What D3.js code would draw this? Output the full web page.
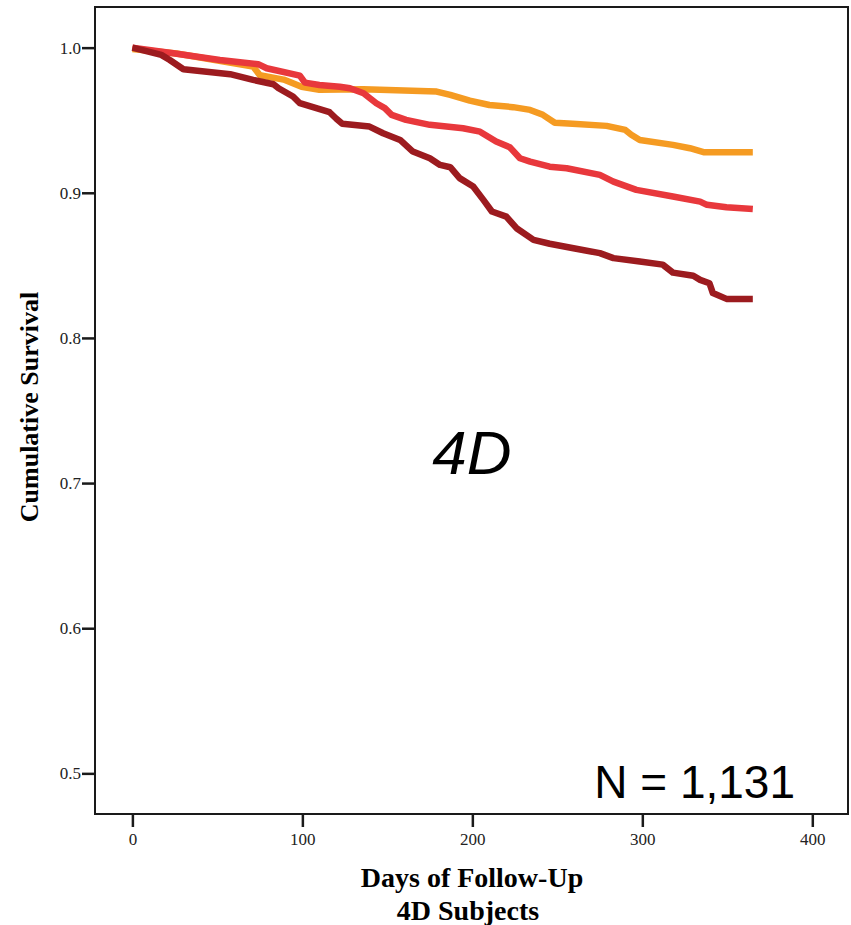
<!DOCTYPE html>
<html>
<head>
<meta charset="utf-8">
<script src="https://cdn.jsdelivr.net/npm/d3@7"></script>
<style>
  body { margin: 0; background: #fff; }
  svg { display: block; }
</style>
</head>
<body>
<svg width="851" height="925"></svg>
<script>
// follow-up days and cumulative survival
const days1 = [0, 26, 71, 75, 89, 99.5, 110, 136, 179, 187, 198.5, 210, 224, 234, 241.5, 248.5, 259, 279, 290, 293.5, 298.5, 318, 328, 336, 365];
const surv1 = [0.999, 0.996, 0.987, 0.981, 0.978, 0.973, 0.971, 0.9713, 0.9697, 0.9674, 0.9635, 0.9605, 0.959, 0.9571, 0.9537, 0.9483, 0.9475, 0.9461, 0.9433, 0.94, 0.9364, 0.933, 0.9307, 0.928, 0.928];

const days2 = [0, 24, 51.5, 74, 79, 98.5, 101.5, 110, 122, 128, 136, 143.5, 148.5, 152.5, 161, 175, 194.5, 204.5, 214, 222, 228, 234, 245.5, 255.5, 275, 283, 296.5, 318, 334, 338, 349.5, 365];
const surv2 = [1.0, 0.9961, 0.9915, 0.9886, 0.9858, 0.9807, 0.9759, 0.9743, 0.9731, 0.972, 0.9686, 0.9617, 0.9583, 0.9537, 0.9502, 0.9468, 0.9445, 0.9421, 0.9353, 0.9314, 0.9238, 0.9215, 0.918, 0.9169, 0.9123, 0.9077, 0.902, 0.8974, 0.8939, 0.8917, 0.8901, 0.8889];

const days3 = [0, 17, 22, 30, 57.5, 71, 83, 86, 94.5, 98.5, 116, 120, 123.5, 139.5, 147.5, 157.5, 165, 175, 181, 187, 192.5, 200.5, 206.5, 211.5, 220, 226, 236, 245.5, 259.5, 275, 283, 298.5, 312, 318, 330, 334, 339.5, 341.5, 349.5, 365];
const surv3 = [1.0, 0.995, 0.9915, 0.9851, 0.9817, 0.9778, 0.9748, 0.972, 0.9663, 0.9617, 0.9555, 0.951, 0.9475, 0.9456, 0.941, 0.9364, 0.9284, 0.9238, 0.9192, 0.9176, 0.9101, 0.9043, 0.8951, 0.8871, 0.8836, 0.8756, 0.8676, 0.8649, 0.8618, 0.8584, 0.855, 0.8526, 0.8505, 0.845, 0.8428, 0.84, 0.8377, 0.8309, 0.8269, 0.8269];

const xTicks = [0, 100, 200, 300, 400];
const yTicks = [0.5, 0.6, 0.7, 0.8, 0.9, 1.0];
const colors = ["#f59b22", "#e8383c", "#9c1b1f"];

const svg = d3.select("svg");
const m = { left: 95, right: 848, top: 7, bottom: 814 };

const x = d3.scaleLinear().domain([-22, 421]).range([m.left, m.right]);
const y = d3.scaleLinear().domain([0.472, 1.028]).range([m.bottom, m.top]);

// frame
svg.append("rect")
  .attr("x", m.left).attr("y", m.top)
  .attr("width", m.right - m.left).attr("height", m.bottom - m.top)
  .attr("fill", "none").attr("stroke", "#1a1a1a").attr("stroke-width", 2);

const serif = "'Liberation Serif', 'Times New Roman', serif";

const yAxis = svg.append("g")
  .attr("transform", `translate(${m.left},0)`)
  .call(d3.axisLeft(y).tickValues(yTicks).tickFormat(d3.format(".1f")).tickSize(13).tickPadding(1));
const xAxis = svg.append("g")
  .attr("transform", `translate(0,${m.bottom})`)
  .call(d3.axisBottom(x).tickValues(xTicks).tickFormat(d3.format("d")).tickSize(13).tickPadding(6));

[xAxis, yAxis].forEach(g => {
  g.select(".domain").remove();
  g.selectAll(".tick line").attr("stroke", "#1a1a1a").attr("stroke-width", 2.5);
  g.selectAll(".tick text").attr("fill", "#222").style("font-family", serif).style("font-size", "17px");
});

// survival curves
const line = d3.line()
  .x(d => x(d[0]))
  .y(d => y(d[1]));

const series = [
  d3.zip(days1, surv1),
  d3.zip(days2, surv2),
  d3.zip(days3, surv3)
];

svg.append("g").selectAll("path")
  .data(series)
  .join("path")
  .attr("d", line)
  .attr("fill", "none")
  .attr("stroke", (d, i) => colors[i])
  .attr("stroke-width", 6.5)
  .attr("stroke-linejoin", "round");

// labels
svg.append("text")
  .attr("transform", "translate(38,407) rotate(-90)")
  .attr("text-anchor", "middle")
  .style("font-family", serif).style("font-weight", "bold").style("font-size", "26px")
  .text("Cumulative Survival");

svg.append("text")
  .attr("x", 472).attr("y", 887)
  .attr("text-anchor", "middle")
  .style("font-family", serif).style("font-weight", "bold").style("font-size", "28px")
  .text("Days of Follow-Up");

svg.append("text")
  .attr("x", 468).attr("y", 920)
  .attr("text-anchor", "middle")
  .style("font-family", serif).style("font-weight", "bold").style("font-size", "28px")
  .text("4D Subjects");

svg.append("text")
  .attr("x", 472).attr("y", 474)
  .attr("text-anchor", "middle")
  .style("font-family", "'Liberation Sans', Arial, sans-serif").style("font-style", "italic").style("font-size", "62px")
  .text("4D");

svg.append("text")
  .attr("x", 795).attr("y", 798)
  .attr("text-anchor", "end")
  .style("font-family", "'Liberation Sans', Arial, sans-serif").style("font-size", "46px")
  .text("N = 1,131");
</script>
</body>
</html>
